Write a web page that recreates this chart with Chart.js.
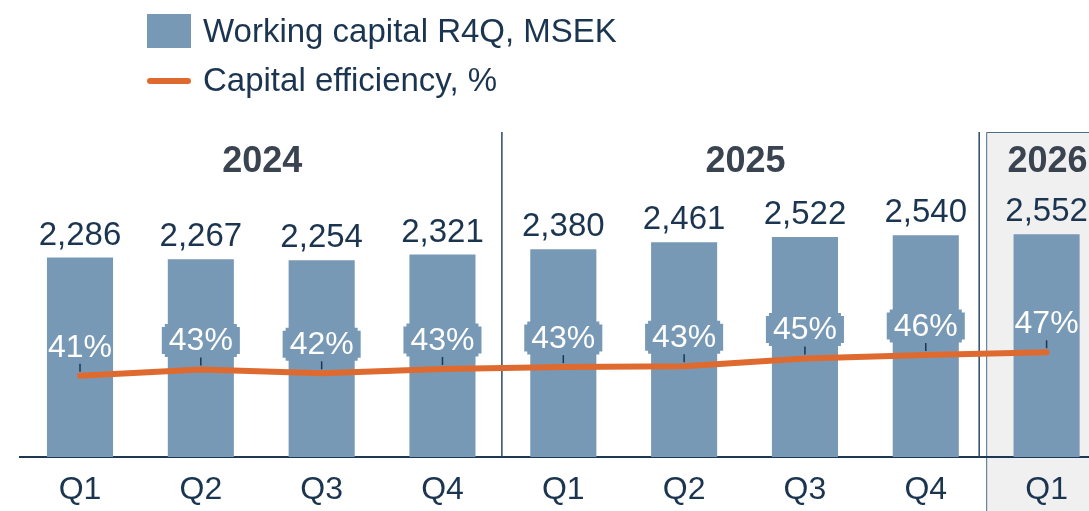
<!DOCTYPE html>
<html>
<head>
<meta charset="utf-8">
<script src="https://cdn.jsdelivr.net/npm/chart.js@4.4.0/dist/chart.umd.min.js"></script>
<style>
  html, body { margin: 0; padding: 0; background: #fff; overflow: hidden; }
  #wrap { position: relative; width: 1089px; height: 511px; overflow: hidden; }
  canvas { display: block; }
</style>
</head>
<body>
<div id="wrap"><canvas id="chart" width="1107" height="511" style="width:1107px;height:511px"></canvas></div>
<script>
// Data
const quarters = ['Q1', 'Q2', 'Q3', 'Q4', 'Q1', 'Q2', 'Q3', 'Q4', 'Q1'];
const workingCapital = [2286, 2267, 2254, 2321, 2380, 2461, 2522, 2540, 2552];
const efficiency = [41.0, 42.6, 41.6, 42.7, 43.2, 43.4, 45.4, 46.3, 47.0];
const years = ['2024', '2025', '2026'];
const yearFirst = [0, 4, 8];
const yearLast = [3, 7, 8];

const FONT = "'Liberation Sans', Arial, Helvetica, sans-serif";
const BAR = '#7899b5';
const ORANGE = '#df6a30';
const NAVY = '#1b3550';

// Fond gris 2026 + séparateurs + textes
const decor = {
  id: 'decor',
  beforeDraw(chart) {
    const ctx = chart.ctx;
    const x = chart.scales.x;
    const bx = (x.getPixelForValue(7) + x.getPixelForValue(8)) / 2;
    ctx.save();
    ctx.fillStyle = '#f0f0f0';
    ctx.fillRect(bx, 132, chart.width - bx, chart.height - 132);
    ctx.strokeStyle = '#4f6e8c';
    ctx.lineWidth = 1;
    ctx.beginPath();
    ctx.moveTo(bx + 0.5, chart.height);
    ctx.lineTo(bx + 0.5, 132.5);
    ctx.lineTo(chart.width, 132.5);
    ctx.stroke();
    ctx.restore();
  },
  beforeDatasetsDraw(chart) {
    const ctx = chart.ctx;
    const x = chart.scales.x;
    const area = chart.chartArea;
    const s1 = (x.getPixelForValue(3) + x.getPixelForValue(4)) / 2 - 1;
    const s2 = (x.getPixelForValue(7) + x.getPixelForValue(8)) / 2 - 7;
    ctx.save();
    ctx.strokeStyle = '#2c4866';
    ctx.lineWidth = 1.5;
    [s1, s2].forEach(sx => {
      ctx.beginPath();
      ctx.moveTo(sx, 132);
      ctx.lineTo(sx, area.bottom);
      ctx.stroke();
    });
    ctx.restore();
  },
  afterDatasetsDraw(chart) {
    const ctx = chart.ctx;
    const x = chart.scales.x;
    ctx.save();

    // années
    ctx.font = 'bold 36px ' + FONT;
    ctx.fillStyle = '#3a4451';
    ctx.textAlign = 'center';
    ctx.textBaseline = 'middle';
    years.forEach((y, i) => {
      const cx = (x.getPixelForValue(yearFirst[i]) + x.getPixelForValue(yearLast[i])) / 2;
      ctx.fillText(y, cx + 1, 162);
    });

    // valeurs des barres
    const barMeta = chart.getDatasetMeta(1);
    ctx.font = '33px ' + FONT;
    ctx.fillStyle = NAVY;
    barMeta.data.forEach((el, i) => {
      ctx.fillText(workingCapital[i].toLocaleString('en-US'), el.x, el.y - 22);
    });

    // étiquettes %
    const lineMeta = chart.getDatasetMeta(0);
    ctx.font = '32px ' + FONT;
    lineMeta.data.forEach((pt, i) => {
      const txt = Math.round(efficiency[i]) + '%';
      const cy = pt.y - 29;
      if (i > 0 && i < efficiency.length - 1) {
        const w = ctx.measureText(txt).width + 14;
        const x0 = pt.x - w / 2, x1 = pt.x + w / 2;
        const y0 = cy - 16.5, y1 = cy + 16.5;
        const n = 3;
        ctx.fillStyle = BAR;
        ctx.beginPath();
        ctx.moveTo(x0 + n, y0);
        ctx.lineTo(x1 - n, y0);
        ctx.lineTo(x1 - n, y0 + n);
        ctx.lineTo(x1, y0 + n);
        ctx.lineTo(x1, y1 - n);
        ctx.lineTo(x1 - n, y1 - n);
        ctx.lineTo(x1 - n, y1);
        ctx.lineTo(x0 + n, y1);
        ctx.lineTo(x0 + n, y1 - n);
        ctx.lineTo(x0, y1 - n);
        ctx.lineTo(x0, y0 + n);
        ctx.lineTo(x0 + n, y0 + n);
        ctx.closePath();
        ctx.fill();
      }
      ctx.fillStyle = '#ffffff';
      ctx.fillText(txt, pt.x, cy + 1);
      ctx.strokeStyle = NAVY;
      ctx.lineWidth = 1.5;
      ctx.beginPath();
      ctx.moveTo(pt.x, pt.y - 12);
      ctx.lineTo(pt.x, pt.y - 4);
      ctx.stroke();
    });
    ctx.restore();
  },
  afterDraw(chart) {
    // légende
    const ctx = chart.ctx;
    ctx.save();
    ctx.fillStyle = BAR;
    ctx.fillRect(147, 14, 44, 34);
    ctx.strokeStyle = ORANGE;
    ctx.lineWidth = 6;
    ctx.lineCap = 'round';
    ctx.beginPath();
    ctx.moveTo(150, 81);
    ctx.lineTo(188, 81);
    ctx.stroke();
    ctx.font = '33px ' + FONT;
    ctx.fillStyle = NAVY;
    ctx.textAlign = 'left';
    ctx.textBaseline = 'middle';
    ctx.fillText(chart.data.datasets[1].label, 203, 33);
    ctx.fillText(chart.data.datasets[0].label, 203, 82);
    ctx.restore();
  }
};

const ctx = document.getElementById('chart').getContext('2d');
window.myChart = new Chart(ctx, {
  type: 'bar',
  data: {
    labels: quarters,
    datasets: [
      {
        type: 'line',
        label: 'Capital efficiency, %',
        data: efficiency,
        yAxisID: 'y1',
        borderColor: ORANGE,
        borderWidth: 6,
        borderCapStyle: 'round',
        borderJoinStyle: 'round',
        pointRadius: 0,
        tension: 0,
        order: 0
      },
      {
        type: 'bar',
        label: 'Working capital R4Q, MSEK',
        data: workingCapital,
        yAxisID: 'y',
        backgroundColor: BAR,
        barPercentage: 0.547,
        categoryPercentage: 1,
        order: 1
      }
    ]
  },
  options: {
    responsive: false,
    animation: false,
    devicePixelRatio: 1,
    layout: { padding: { left: 19.6, right: 0, top: 120, bottom: 0 } },
    plugins: {
      legend: { display: false },
      tooltip: { enabled: false }
    },
    scales: {
      x: {
        grid: { display: true, drawOnChartArea: false, drawTicks: false },
        border: { display: true, color: '#1d3854', width: 2 },
        ticks: { color: NAVY, font: { family: FONT, size: 32 }, padding: 14 },
        afterFit: (scale) => { scale.height = 54; }
      },
      y: { display: false, min: 0, max: 3862 },
      y1: { display: false, min: 20.15, max: 106.55 }
    }
  },
  plugins: [decor]
});
</script>
</body>
</html>
